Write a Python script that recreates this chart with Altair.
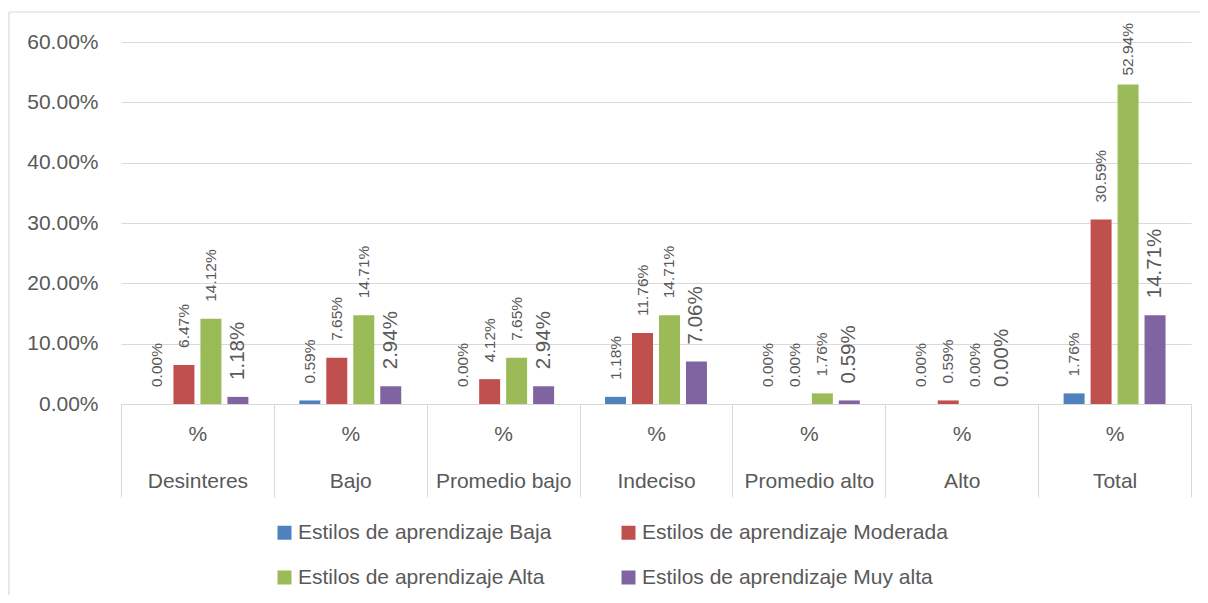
import altair as alt
import pandas as pd

categorias = ["Desinteres", "Bajo", "Promedio bajo", "Indeciso", "Promedio alto", "Alto", "Total"]
series = [
    "Estilos de aprendizaje Baja",
    "Estilos de aprendizaje Moderada",
    "Estilos de aprendizaje Alta",
    "Estilos de aprendizaje Muy alta",
]
baja = [0.00, 0.59, 0.00, 1.18, 0.00, 0.00, 1.76]
moderada = [6.47, 7.65, 4.12, 11.76, 0.00, 0.59, 30.59]
alta = [14.12, 14.71, 7.65, 14.71, 1.76, 0.00, 52.94]
muy_alta = [1.18, 2.94, 2.94, 7.06, 0.59, 0.00, 14.71]
colores = ["#4f81bd", "#c0504d", "#9bbb59", "#8064a2"]
y_ticks = [0, 0.1, 0.2, 0.3, 0.4, 0.5, 0.6]

rows = []
for s, vals in zip(series, [baja, moderada, alta, muy_alta]):
    for c, v in zip(categorias, vals):
        rows.append({"cat": c, "serie": s, "valor": v / 100})
df = pd.DataFrame(rows)

W, H = 1070, 362
FONT = "Liberation Sans"
GRAY = "#595959"
LINE = "#d9d9d9"

x = alt.X(
    "cat:N",
    sort=categorias,
    scale=alt.Scale(paddingInner=0, paddingOuter=0),
    axis=alt.Axis(
        title=None, labelAngle=0, grid=False,
        domainColor=LINE, tickColor=LINE, tickBand="extent", tickSize=93,
        labelPadding=-74, labelExpr="datum.label ? ['%', datum.label] : ''",
        labelLineHeight=47, labelFontSize=21, labelColor=GRAY, labelFont=FONT,
        labelBaseline="top",
    ),
)
xo = alt.XOffset("serie:N", sort=series, scale=alt.Scale(paddingInner=0.222, paddingOuter=0.944))
y = alt.Y(
    "valor:Q",
    scale=alt.Scale(domain=[0, 0.6], nice=False),
    axis=alt.Axis(
        title=None, values=y_ticks, format=".2%", domain=False, ticks=False,
        labelPadding=23, gridColor=LINE, labelFontSize=21, labelColor=GRAY, labelFont=FONT,
    ),
)
color = alt.Color(
    "serie:N",
    sort=series,
    scale=alt.Scale(domain=series, range=colores),
    legend=alt.Legend(
        title=None, orient="none", direction="horizontal", legendX=153, legendY=480,
        columns=2, columnPadding=66, rowPadding=23, symbolType="square", symbolSize=196,
        symbolStrokeWidth=0, labelFontSize=21, labelColor=GRAY, labelFont=FONT,
        labelOffset=3, padding=0, labelLimit=500,
    ),
)

base = alt.Chart(df)
bars = base.mark_bar().encode(x=x, xOffset=xo, y=y, color=color)
txt_small = base.transform_filter(
    (alt.datum.serie != series[3]) & (alt.datum.valor <= 0.5)
).mark_text(
    angle=270, align="left", baseline="middle", dx=17, fontSize=15.5, font=FONT, color=GRAY
).encode(x=x, xOffset=xo, y=y, text=alt.Text("valor:Q", format=".2%"))
# labels near the chart top are pulled closer to the bar, as in the original
txt_top = base.transform_filter(
    (alt.datum.serie != series[3]) & (alt.datum.valor > 0.5)
).mark_text(
    angle=270, align="left", baseline="middle", dx=9, fontSize=15.5, font=FONT, color=GRAY
).encode(x=x, xOffset=xo, y=y, text=alt.Text("valor:Q", format=".2%"))
txt_big = base.transform_filter(alt.datum.serie == series[3]).mark_text(
    angle=270, align="left", baseline="middle", dx=17, fontSize=20.5, font=FONT, color=GRAY
).encode(x=x, xOffset=xo, y=y, text=alt.Text("valor:Q", format=".2%"))

frame_data = alt.Chart(pd.DataFrame({"a": [0]}))
left_line = frame_data.mark_rule(color=LINE, strokeWidth=1.2).encode(
    x=alt.value(-112), y=alt.value(-30), y2=alt.value(H + 200)
)
top_line = frame_data.mark_rule(color=LINE, strokeWidth=1.2).encode(
    x=alt.value(-112), x2=alt.value(W + 20), y=alt.value(-30)
)

chart = alt.layer(bars, txt_small, txt_top, txt_big, left_line, top_line).properties(
    width=W, height=H,
    padding={"left": 113, "top": 34, "right": 9, "bottom": 191},
    autosize=alt.AutoSizeParams(type="none"),
).configure_view(stroke=None)

chart.save("out.html", embed_options={"renderer": "svg", "actions": False})
